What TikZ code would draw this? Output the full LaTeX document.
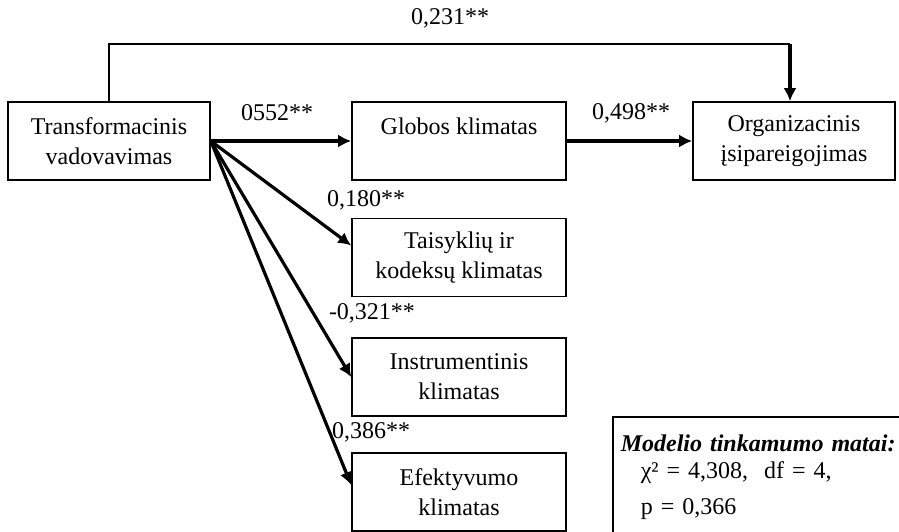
\documentclass[tikz,border=0pt]{standalone}
\usepackage{fontspec}
\setmainfont{Liberation Serif}
\usetikzlibrary{arrows.meta, positioning}
\tikzstyle{klimatas} = [
    rectangle,
    minimum width=107pt,
    minimum height=39pt,
    align=center,
    line width=0.8pt,
    draw=black
]
\tikzstyle{koef} = [inner sep=1pt]
\tikzstyle{arrow} = [line width=1.6pt,-{Latex[length=6.5pt,width=6.5pt]}]

\begin{document}
\begin{tikzpicture}[x=0.5pt, y=-0.5pt, font=\fontsize{12}{15}\selectfont]
\useasboundingbox (0,0) rectangle (899,531);

\node (transf) [klimatas, minimum width=101pt] at (109,141)
{Transformacinis\\vadovavimas};

\node (globos) [klimatas, text depth=15pt] at (459,141)
{Globos klimatas};

\node (organiz) [klimatas, minimum width=101pt] at (794,141)
{Organizacinis\\įsipareigojimas};

\node (taisykl) [klimatas] at (459,257.5)
{Taisyklių ir\\kodeksų klimatas};

\node (instr) [klimatas] at (459,377)
{Instrumentinis\\klimatas};

\node (efekt) [klimatas] at (459,492)
{Efektyvumo\\klimatas};

\node (matai) [draw, line width=0.8pt, anchor=north west, text width=150pt,
    align=left, inner xsep=4pt, inner ysep=9pt, text depth=40pt] at (612,416)
{\textbf{\textit{Modelio tinkamumo matai:}}\\[-1.5pt]
\hspace*{10pt}χ² = 4,308,\ \ df = 4,\\[3pt]
\hspace*{10pt}p = 0,366};

% koeficientai
\node (k_tg) [koef] at (277,113) {0552**};
\node (k_go) [koef] at (631,113) {0,498**};
\node (k_to) [koef] at (450,18) {0,231**};
\node (k_tt) [koef] at (366,200) {0,180**};
\node (k_ti) [koef] at (372,313) {-0,321**};
\node (k_te) [koef] at (371,432) {0,386**};

\coordinate (virsus) at (790,44);
\draw [line width=0.8pt] (transf.north) |- (virsus);
\draw [arrow] (virsus) -- (organiz.north -| virsus);

\draw [arrow] (transf.east) -- (globos.west);
\draw [arrow] (globos.east) -- (organiz.west);
\draw [arrow] (transf.east) -- ([yshift=6pt]taisykl.west);
\draw [arrow] (transf.east) -- (instr.west);
\draw [arrow] (transf.east) -- ([yshift=3.5pt]efekt.west);

\end{tikzpicture}
\end{document}
